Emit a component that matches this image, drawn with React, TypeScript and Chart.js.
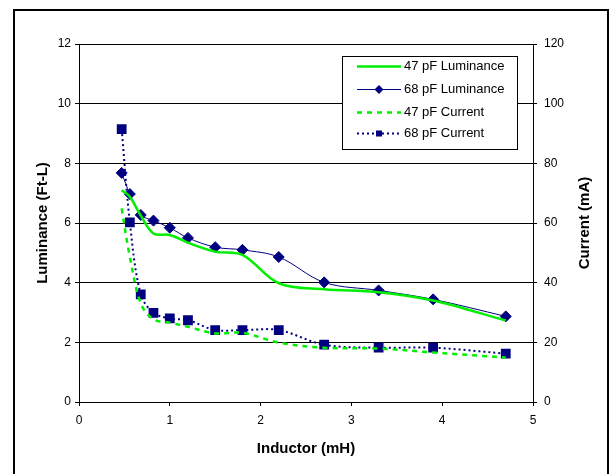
import React, { useEffect, useRef } from "react";
import { Chart, registerables } from "chart.js";

Chart.register(...registerables);

const inductance = [0.47, 0.56, 0.68, 0.82, 1.0, 1.2, 1.5, 1.8, 2.2, 2.7, 3.3, 3.9, 4.7];
const lum47 = [7.1, 6.88, 6.25, 5.65, 5.6, 5.34, 5.04, 4.93, 3.98, 3.78, 3.68, 3.4, 2.73];
const lum68 = [7.68, 6.97, 6.27, 6.08, 5.84, 5.5, 5.19, 5.1, 4.86, 4.01, 3.74, 3.44, 2.87];
const cur47 = [64.9, 48.7, 33.1, 27.7, 26.6, 25.2, 23.0, 23.2, 19.9, 18.2, 17.9, 16.6, 14.9];
const cur68 = [91.5, 60.2, 36.1, 29.9, 28.0, 27.4, 24.1, 24.1, 24.1, 19.2, 18.2, 18.2, 16.2];

const seriesLabels = ["47 pF Luminance", "68 pF Luminance", "47 pF Current", "68 pF Current"];
const xTitle = "Inductor (mH)";
const yTitle = "Luminance (Ft-L)";
const y1Title = "Current (mA)";

const GREEN = "#00ee00";
const NAVY = "#000080";
const FONT = "'Liberation Sans', Arial, sans-serif";

const pts = (ys: number[]) => inductance.map((x, i) => ({ x, y: ys[i] }));

const framePlugin = {
  id: "frame",
  beforeDraw(chart: any) {
    const ctx = chart.ctx;
    ctx.save();
    ctx.fillStyle = "#ffffff";
    ctx.fillRect(0, 0, chart.width, chart.height);
    ctx.strokeStyle = "#000000";
    ctx.lineWidth = 2;
    ctx.strokeRect(14, 10, 594, 480);
    ctx.restore();
  },
  afterDraw(chart: any) {
    const ctx = chart.ctx;
    const ca = chart.chartArea;
    ctx.save();
    ctx.fillStyle = "#000";
    ctx.font = `bold 15px ${FONT}`;
    ctx.textAlign = "center";
    ctx.textBaseline = "middle";
    ctx.fillText(xTitle, (ca.left + ca.right) / 2, 449);
    ctx.save();
    ctx.translate(43, (ca.top + ca.bottom) / 2);
    ctx.rotate(-Math.PI / 2);
    ctx.fillText(yTitle, 0, 0);
    ctx.restore();
    ctx.save();
    ctx.translate(585, (ca.top + ca.bottom) / 2);
    ctx.rotate(-Math.PI / 2);
    ctx.fillText(y1Title, 0, 0);
    ctx.restore();

    // legend
    const lx = 342, ly = 56, lw = 175, lh = 93;
    ctx.fillStyle = "#fff";
    ctx.fillRect(lx, ly, lw, lh);
    ctx.strokeStyle = "#000";
    ctx.lineWidth = 1;
    ctx.strokeRect(lx + 0.5, ly + 0.5, lw, lh);
    const rows = [66, 89, 112, 133];
    ctx.font = `13px ${FONT}`;
    ctx.textAlign = "left";
    ctx.textBaseline = "middle";
    chart.data.datasets.forEach((ds: any, i: number) => {
      const y = rows[i] + 0.5;
      ctx.save();
      ctx.strokeStyle = ds.borderColor;
      ctx.lineWidth = ds.borderWidth;
      ctx.setLineDash(ds.borderDash || []);
      ctx.beginPath();
      ctx.moveTo(357, y);
      ctx.lineTo(401, y);
      ctx.stroke();
      ctx.setLineDash([]);
      if (ds.pointRadius > 0) {
        ctx.fillStyle = ds.pointBackgroundColor;
        const cx = 379;
        ctx.beginPath();
        if (ds.pointStyle === "rectRot") {
          const r = 4.5;
          ctx.moveTo(cx, y - r);
          ctx.lineTo(cx + r, y);
          ctx.lineTo(cx, y + r);
          ctx.lineTo(cx - r, y);
          ctx.closePath();
        } else {
          const s = 3;
          ctx.rect(cx - s, y - s, 2 * s, 2 * s);
        }
        ctx.fill();
      }
      ctx.restore();
      ctx.fillStyle = "#000";
      ctx.fillText(ds.label, 404, y);
    });
    ctx.restore();
  },
};

export default function App() {
  const ref = useRef<HTMLCanvasElement | null>(null);
  useEffect(() => {
    if (!ref.current) return;
    const chart = new Chart(ref.current, {
      type: "line",
      data: {
        datasets: [
          {
            label: seriesLabels[0],
            data: pts(lum47),
            yAxisID: "y",
            borderColor: GREEN,
            backgroundColor: GREEN,
            borderWidth: 2.5,
            pointRadius: 0,
            tension: 0.35,
          },
          {
            label: seriesLabels[1],
            data: pts(lum68),
            yAxisID: "y",
            borderColor: NAVY,
            backgroundColor: NAVY,
            pointBackgroundColor: NAVY,
            pointBorderColor: NAVY,
            borderWidth: 1,
            pointStyle: "rectRot",
            pointRadius: 5.5,
            tension: 0.35,
          },
          {
            label: seriesLabels[2],
            data: pts(cur47),
            yAxisID: "y1",
            borderColor: GREEN,
            backgroundColor: GREEN,
            borderWidth: 2.5,
            borderDash: [5, 5],
            pointRadius: 0,
            tension: 0.35,
          },
          {
            label: seriesLabels[3],
            data: pts(cur68),
            yAxisID: "y1",
            borderColor: NAVY,
            backgroundColor: NAVY,
            pointBackgroundColor: NAVY,
            pointBorderColor: NAVY,
            borderWidth: 2,
            borderDash: [2, 3],
            pointStyle: "rect",
            pointRadius: 5.5,
            tension: 0.35,
          },
        ] as any,
      },
      options: {
        animation: false,
        responsive: false,
        maintainAspectRatio: false,
        layout: { padding: { top: 44, left: 0, right: 0, bottom: 0 } },
        plugins: {
          legend: { display: false },
          tooltip: { enabled: false },
          title: { display: false },
        },
        scales: {
          x: {
            type: "linear",
            min: 0,
            max: 5,
            afterFit: (s: any) => {
              s.height = 72;
            },
            ticks: {
              stepSize: 1,
              color: "#000",
              font: { family: FONT, size: 12 },
              padding: 7,
            },
            grid: { drawOnChartArea: false, drawTicks: true, tickLength: 4, color: "#000" },
            border: { display: true, color: "#000", width: 1 },
          },
          y: {
            type: "linear",
            position: "left",
            min: 0,
            max: 12,
            afterFit: (s: any) => {
              s.width = 79;
            },
            ticks: {
              stepSize: 2,
              color: "#000",
              font: { family: FONT, size: 12 },
              padding: 4,
            },
            grid: { drawOnChartArea: true, drawTicks: true, tickLength: 4, color: "#000", lineWidth: 1 },
            border: { display: true, color: "#000", width: 1 },
          },
          y1: {
            type: "linear",
            position: "right",
            min: 0,
            max: 120,
            afterFit: (s: any) => {
              s.width = 77;
            },
            ticks: {
              stepSize: 20,
              color: "#000",
              font: { family: FONT, size: 12 },
              padding: 7,
            },
            grid: { drawOnChartArea: false, drawTicks: true, tickLength: 4, color: "#000" },
            border: { display: true, color: "#000", width: 1 },
          },
        },
      } as any,
      plugins: [framePlugin],
    });
    return () => chart.destroy();
  }, []);
  return (
    <div style={{ position: "absolute", left: 0, top: 0, width: 610, height: 474 }}>
      <canvas ref={ref} width={610} height={474} style={{ display: "block", width: 610, height: 474 }} />
    </div>
  );
}
